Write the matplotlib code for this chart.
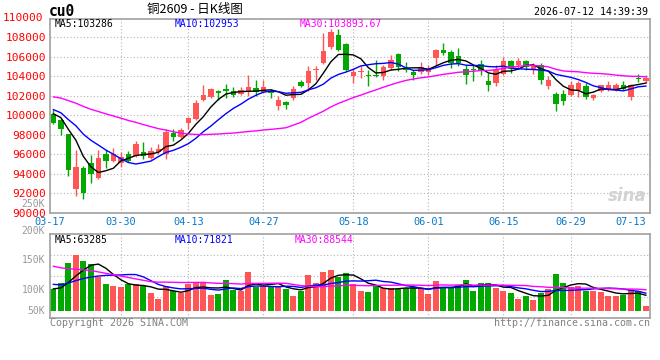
import matplotlib
matplotlib.use("Agg")
import matplotlib.pyplot as plt
import matplotlib.transforms as mtransforms
import numpy as np

# ---- CU0 daily bars, 03-17 .. 07-13
open_ = [100150, 99470, 98040, 92430, 94570, 95080, 93550, 96000, 95320, 95080,
         96070, 95830, 96270, 95660, 96240, 96000, 98140, 97770, 99160, 99640,
         101540, 101880, 102460, 102730, 102530, 102220, 102460, 102800, 102390, 102460,
         100930, 101340, 101780, 103380, 103310, 104600, 105350, 106950, 108170, 107290,
         103990, 104400, 104160, 104160, 103990, 104840, 106270, 104840, 104430, 104430,
         104430, 105860, 106710, 106440, 106100, 104770, 104770, 105250, 103550, 103310,
         104230, 105520, 105110, 105590, 104670, 105180, 103040, 102220, 102220, 102120,
         102630, 102970, 101780, 102460, 102630, 102630, 103140, 101850, 103820, 103480]
close = [99230, 98550, 94400, 94740, 92020, 93960, 95590, 95320, 96000, 95760,
         95320, 97020, 95830, 96300, 96580, 98240, 97770, 98450, 99670, 101270,
         102120, 102730, 102290, 102460, 102050, 102590, 102870, 102390, 102870, 102290,
         101610, 101100, 102730, 102970, 104570, 104770, 106540, 108510, 106710, 104670,
         104430, 104570, 103990, 103990, 104910, 105690, 104910, 104670, 104090, 104940,
         104840, 106640, 106370, 105350, 105350, 104090, 104600, 104570, 103070, 104670,
         105590, 104770, 105520, 104910, 105010, 103580, 103580, 101170, 101510, 103140,
         103310, 101850, 102050, 103070, 103070, 103070, 102730, 103140, 103720, 103820]
high = [100500, 99670, 98100, 96410, 94800, 95960, 96410, 96410, 96610, 96270,
        96340, 97360, 97220, 96750, 97020, 98550, 98550, 98720, 99800, 101540,
        103140, 102800, 102630, 103210, 102870, 102870, 104160, 103650, 103650, 102730,
        101950, 101510, 102970, 103650, 105010, 105010, 108410, 108850, 108850, 107390,
        104840, 105010, 104670, 105690, 105180, 106200, 106370, 105420, 104670, 105420,
        105180, 106810, 107390, 106640, 106880, 105180, 105180, 105690, 104330, 105180,
        105930, 105690, 105860, 105690, 105350, 105350, 103990, 102360, 102630, 103480,
        103480, 103310, 102190, 103140, 103550, 103310, 103480, 103210, 104230, 104160]
low = [99060, 97970, 93790, 91750, 91480, 93110, 93450, 94640, 95220, 94740,
       95220, 95730, 95490, 95560, 96000, 95490, 97360, 97630, 98550, 99470,
       101440, 101780, 101610, 101780, 101850, 102120, 102020, 101950, 102290, 101780,
       100590, 100690, 101610, 102870, 102530, 103650, 105250, 106810, 106540, 104570,
       103310, 103820, 102970, 103890, 103580, 104670, 104500, 104430, 103580, 104260,
       104160, 105010, 106200, 104840, 105010, 103240, 103480, 104160, 102530, 102970,
       104160, 104330, 104770, 104670, 104230, 103240, 102730, 100420, 101100, 101950,
       101850, 101710, 101610, 102390, 102460, 102530, 102630, 101610, 103380, 103310]
volume = [101700, 111200, 146000, 158900, 148800, 143200, 121300, 110700, 106700, 104500,
          109500, 110100, 106700, 95500, 85400, 107300, 98300, 94400, 109500, 111200,
          111200, 91600, 93300, 116800, 99400, 98300, 130300, 105600, 107300, 105600,
          105600, 101700, 89900, 98300, 125200, 112300, 130300, 133700, 122400, 129200,
          110100, 98300, 96600, 106700, 102800, 102800, 101700, 102800, 105600, 102800,
          93300, 115100, 105600, 105600, 108400, 116800, 98300, 111800, 111800, 103900,
          98300, 95500, 84900, 89900, 83200, 95500, 101700, 126900, 112300, 105600,
          106700, 98300, 98300, 96600, 90500, 90500, 91600, 101700, 98300, 73600]

# bars before the window, inferred from where the MA lines start
prior_close = [102100, 102300, 102500, 102200, 102600, 102400, 102700, 102300, 102500, 102360,
               102900, 102700, 102500, 102800, 102600, 102900, 102700, 102400, 102600, 102540,
               101800, 101400, 101000, 100700, 100150, 100500, 100400, 100300, 100320]
prior_volume = [190000, 195000, 180000, 185000, 175000, 190000, 183000, 177000, 173000, 180000,
                185000, 175000, 165000, 110000, 105000, 108000, 102000, 112000, 107000, 108000,
                120000, 115000, 118000, 114000, 118000, 104000, 100000, 103000, 101000]

tick_idx = [0, 9, 18, 28, 40, 50, 60, 69, 79]
tick_dates = ["03-17", "03-30", "04-13", "04-27", "05-18", "06-01", "06-15", "06-29", "07-13"]
price_ticks = list(range(90000, 110001, 2000))
vol_ticks = [50000, 100000, 150000, 200000, 250000]
vol_tick_labels = ["50K", "100K", "150K", "200K", "250K"]

title = "铜2609 - 日K线图"
symbol = "cu0"
stamp = "2026-07-12 14:39:39"
ma_text = ["MA5:103286", "MA10:102953", "MA30:103893.67"]
vma_text = ["MA5:63285", "MA10:71821", "MA30:88544"]

RED, GREEN = "#ff5555", "#00a800"
MA_COLORS = ["black", "#0000ff", "#ff00ff"]
GRID = "#b4b4b4"
FRAME = "#a0a0a0"
MONO = "DejaVu Sans Mono"

plt.rcParams["font.family"] = [MONO, "Noto Sans CJK SC"]

W, H = 660, 360


def box(l, t, r, b):
    return [l / W, 1 - b / H, (r - l) / W, (b - t) / H]


def ma(series, prior, n):
    a = np.r_[prior, series].astype(float)
    return np.convolve(a, np.ones(n) / n, "valid")[-len(series):]


fig = plt.figure(figsize=(W / 100, H / 100), dpi=100)
ax = fig.add_axes(box(50, 19, 650, 213))
axv = fig.add_axes(box(50, 234, 650, 318))

o, c, h, l = map(np.asarray, (open_, close, high, low))
v = np.asarray(volume)
x = np.arange(len(c))
cols = np.where(c >= o, RED, GREEN)

for a in (ax, axv):
    a.set_xlim(-0.45, len(c) - 0.45)
    for s in a.spines.values():
        s.set_color(FRAME)
        s.set_linewidth(1.2)
    a.tick_params(length=0)
    for t in tick_idx[1:-1]:
        a.axvline(t, color=GRID, lw=0.8, ls=(0, (1, 2)), zorder=0)

#%% price panel
ax.vlines(x, l, h, colors=cols, lw=1, zorder=2)
ax.bar(x, np.maximum(np.abs(c - o), 60), bottom=np.minimum(o, c), width=0.72,
       color=cols, linewidth=0, zorder=3)
for n, col in zip((5, 10, 30), MA_COLORS):
    ax.plot(x, ma(c, prior_close, n), color=col, lw=1, zorder=4)

ax.set_ylim(90000, 109850)
ax.set_yticks(price_ticks[:-1])
ax.set_yticklabels([str(p) for p in price_ticks[:-1]], color="red", fontsize=8)
ax.tick_params(axis="y", pad=3)
ax.text(-0.012, price_ticks[-1], str(price_ticks[-1]),
        transform=mtransforms.blended_transform_factory(ax.transAxes, ax.transData),
        ha="right", va="center", color="red", fontsize=8, clip_on=False)
ax.grid(axis="y", color=GRID, lw=0.8, ls=(0, (1, 2)))
ax.set_axisbelow(True)

tpos = [ax.get_xlim()[0]] + tick_idx[1:]
ax.set_xticks(tpos)
ax.set_xticklabels(tick_dates, color="#0a78c8", fontsize=7.4)
ax.tick_params(axis="x", pad=3)
ax.get_xticklabels()[-1].set_ha("right")

for txt, xp, col in zip(ma_text, (55, 175, 300), MA_COLORS):
    fig.text(xp / W, 1 - 24 / H, txt, color=col, fontsize=7, va="center")

ax.text(0.995, 0.09, "sina", transform=ax.transAxes, ha="right", va="center",
        fontsize=12, fontstyle="italic", fontweight="bold", color="#d2d2d2",
        family="DejaVu Sans", zorder=1)

#%% volume panel
vlo, vhi = 52800, 194300
vol_floor = 64600
axv.set_ylim(vlo, vhi)
axv.bar(x, v - vol_floor, bottom=vol_floor, width=0.8, color=cols, linewidth=0, zorder=2)
for n, col in zip((5, 10, 30), MA_COLORS):
    axv.plot(x, ma(v, prior_volume, n), color=col, lw=1, zorder=4)
axv.set_yticks([])
axv.set_xticks([])
for yg in np.linspace(vlo, vhi, 5)[1:-1]:
    axv.axhline(yg, color=GRID, lw=0.8, ls=(0, (1, 2)), zorder=0)
btr = mtransforms.blended_transform_factory(axv.transAxes, axv.transData)
for val, lab in zip(vol_ticks, vol_tick_labels):
    # the top label sits between two price labels; nudge it clear of them
    tr = mtransforms.offset_copy(btr, fig=fig, y=-2.2 if val == vol_ticks[-1] else 0, units="points")
    axv.text(-0.008, max(val, vol_floor), lab, transform=tr, ha="right", va="center",
             color="#999999", fontsize=7, clip_on=False)
for txt, xp, col in zip(vma_text, (55, 175, 295), MA_COLORS):
    fig.text(xp / W, 1 - 240 / H, txt, color=col, fontsize=7, va="center")

#%% header / footer
fig.text(49 / W, 1 - 11 / H, symbol, fontsize=10.5, fontweight="bold", va="center")
fig.text(195 / W, 1 - 10 / H, title, fontsize=9, ha="center", va="center",
         family=["Noto Sans CJK SC", "DejaVu Sans"])
fig.text(648 / W, 1 - 12 / H, stamp, fontsize=7.2, ha="right", va="center")
fig.text(50 / W, 1 - 323 / H, "Copyright 2026 SINA.COM", fontsize=7.2, color="#808080", va="center")
fig.text(650 / W, 1 - 323 / H, "http://finance.sina.com.cn", fontsize=7.2, color="#808080",
         ha="right", va="center")

fig.savefig("out.png", dpi=100, facecolor="white")
